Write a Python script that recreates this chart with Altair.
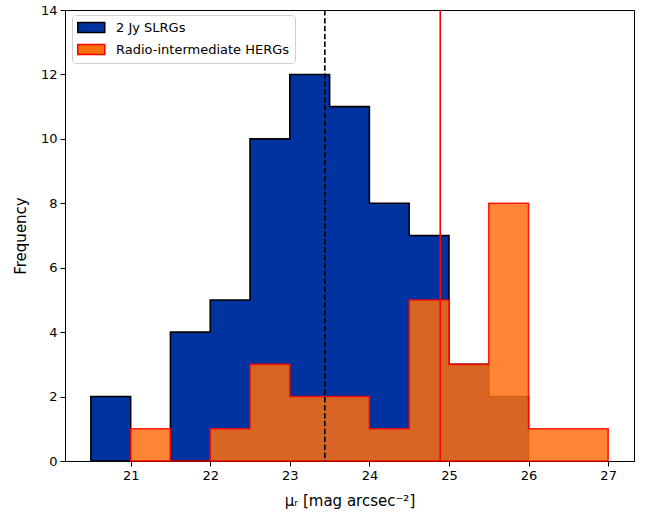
import altair as alt
import pandas as pd

# Histogram data (bin left edges, counts), bin width 0.5
blue_left = [20.5, 21.0, 21.5, 22.0, 22.5, 23.0, 23.5, 24.0, 24.5, 25.0, 25.5]
blue_counts = [2, 0, 4, 5, 10, 12, 11, 8, 7, 3, 2]
orange_left = [21.0, 21.5, 22.0, 22.5, 23.0, 23.5, 24.0, 24.5, 25.0, 25.5, 26.0, 26.5]
orange_counts = [1, 0, 1, 3, 2, 2, 1, 5, 3, 8, 1, 1]
bin_width = 0.5

series_names = ["2 Jy SLRGs", "Radio-intermediate HERGs"]
fill_colors = ["#0033a0", "#fd700f"]
stroke_colors = ["#000000", "#ff0000"]

median_blue = 23.44
median_orange = 24.89


def step_frame(lefts, counts, name):
    xs = list(lefts) + [lefts[-1] + bin_width]
    ys = list(counts) + [counts[-1]]
    return pd.DataFrame({"x": xs, "y": ys, "series": name})


df_blue = step_frame(blue_left, blue_counts, series_names[0])
df_orange = step_frame(orange_left, orange_counts, series_names[1])
df_lines = pd.DataFrame({"x": [median_blue, median_orange],
                         "kind": ["blue", "orange"]})

xscale = alt.Scale(domain=[20.175, 27.325], nice=False, zero=False)
yscale = alt.Scale(domain=[0, 14], nice=False)

fill_scale = alt.Scale(domain=series_names, range=fill_colors)
stroke_scale = alt.Scale(domain=series_names, range=stroke_colors)

legend = alt.Legend(
    title=None, orient="none", legendX=7, legendY=5,
    symbolType="M-1,-0.74L3,-0.74L3,0.74L-1,0.74Z",
    symbolSize=182, symbolStrokeWidth=1.5, symbolOpacity=1,
    labelFont="DejaVu Sans", labelFontSize=13, labelColor="black", labelLimit=400,
    fillColor="white", strokeColor="#d0d0d0", cornerRadius=3,
    padding=5, rowPadding=5, labelOffset=24,
)

xaxis = alt.Axis(title="μᵣ [mag arcsec⁻²]", values=[21, 22, 23, 24, 25, 26, 27],
                 format="d", grid=False)
yaxis = alt.Axis(title="Frequency", values=list(range(0, 15, 2)), format="d", grid=False)


def area_layer(df, opacity):
    return alt.Chart(df).mark_area(
        interpolate="step-after", strokeWidth=1.6,
        fillOpacity=opacity, strokeOpacity=opacity,
    ).encode(
        x=alt.X("x:Q", scale=xscale, axis=xaxis),
        y=alt.Y("y:Q", scale=yscale, axis=yaxis, stack=None),
        fill=alt.Fill("series:N", scale=fill_scale, legend=legend),
        stroke=alt.Stroke("series:N", scale=stroke_scale, legend=legend),
    )


blue = area_layer(df_blue, 1.0)
orange = area_layer(df_orange, 0.85)

rule_blue = alt.Chart(df_lines[df_lines.kind == "blue"]).mark_rule(
    color="black", strokeWidth=1.6, strokeDash=[5.5, 2.4]
).encode(x=alt.X("x:Q", scale=xscale))

rule_orange = alt.Chart(df_lines[df_lines.kind == "orange"]).mark_rule(
    color="#ff0000", strokeWidth=1.6
).encode(x=alt.X("x:Q", scale=xscale))

chart = alt.layer(blue, orange, rule_blue, rule_orange).properties(
    width=569, height=451,
    autosize=alt.AutoSizeParams(type="none"),
    padding={"left": 65, "top": 10, "right": 15, "bottom": 54},
    background="white",
).configure_view(
    stroke="black", strokeWidth=1
).configure_axis(
    domainColor="black", tickColor="black", tickSize=5, tickWidth=1,
    labelFont="DejaVu Sans", labelFontSize=13, labelColor="black", labelPadding=3,
    titleFont="DejaVu Sans", titleFontSize=15, titleFontWeight="normal", titleColor="black",
).configure_axisX(
    titlePadding=11, labelAngle=0,
).configure_axisY(
    titlePadding=12,
)

chart.save("out.html", embed_options={"renderer": "svg", "actions": False})
